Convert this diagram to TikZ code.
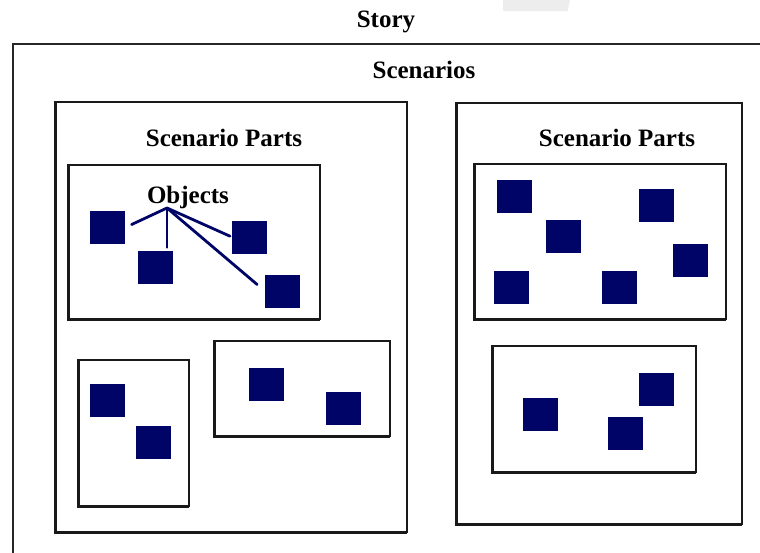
\documentclass[tikz,border=0pt]{standalone}
\usepackage{fontspec}
\setmainfont{Liberation Serif}
\definecolor{ObjNavy}{RGB}{0, 4, 102}
\usetikzlibrary{positioning, calc}

\begin{document}
\begin{tikzpicture}[x=1pt,y=-1pt,
	frame/.style={draw=black!90,line width=1.6pt},
	obj/.style={rectangle,fill=ObjNavy,inner sep=0pt,minimum width=35pt,minimum height=33pt},
	lbl/.style={font=\fontsize{25}{30}\selectfont\bfseries,inner sep=0pt},
	link/.style={draw=ObjNavy,line width=2.8pt,line cap=round}]
\clip (0,0) rectangle (760,552);
\fill[black!7] (503,0) -- (570,0) -- (567.5,11) -- (503,11) -- cycle;
% story frame, cut by the page
\draw[draw=black!85,line width=1.8pt] (13,44) rectangle (780,580);
% scenarios and their parts
\foreach \xa/\ya/\xb/\yb in {55/102/407/532,456/103/742/524,68/165/320/319,
	78/360/189/506,214/341/390/436,474/164/726/319,492/346/696/472}{
	\draw[frame] (\xa,\ya) rectangle (\xb,\yb);
	\draw[frame,line width=3pt] (\xa,\ya) -- (\xa,\yb) -- (\xb,\yb);}
\node[lbl] (story) at (386,22) {Story};
\node[lbl] (scen) at (424,70) {Scenarios};
\node[lbl] (partsL) at (224,138) {Scenario Parts};
\node[lbl] (partsR) at (617,138) {Scenario Parts};
\node[lbl] (objs) at (188,197) {Objects};
% objects
\foreach \n/\x/\y in {o1/107.5/227.5,o2/155.5/267.5,o3/249.5/237,o4/282.5/291,
	p1/107.5/400.5,p2/153.5/442,q1/266/384,q2/343.5/408,
	a/514.5/196.5,b/563/236.5,c/656.5/205.5,d/690/260,e/511.5/287,f/619.5/287,
	g/540.5/414.5,h/656.5/389.5,i/625.5/433}
	\node[obj] (\n) at (\x,\y) {};
\coordinate (fork) at (167,208);
\draw[link,shorten >=7pt] (fork) -- (o1.east);
\draw[link,line width=1.6pt,shorten >=3pt] (fork) -- (fork |- o2.north);
\draw[link,shorten >=2pt] (fork) -- (o3.west);
\draw[link,shorten >=10pt] (fork) -- (o4.west);
\end{tikzpicture}
\end{document}
